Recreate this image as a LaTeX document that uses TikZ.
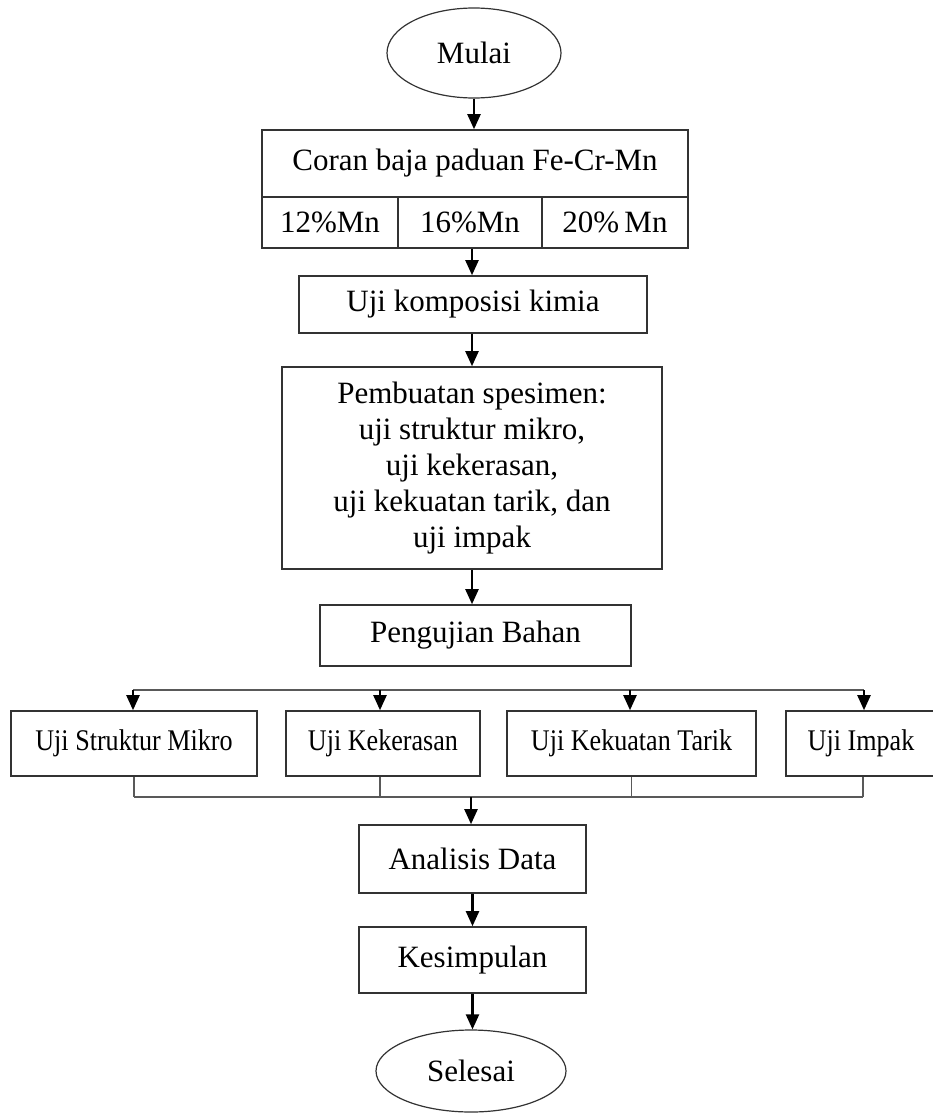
\documentclass[tikz,border=0pt]{standalone}
\usepackage{fontspec}
\setmainfont{Liberation Serif}
\newfontfamily\condfont{Liberation Serif}[FakeStretch=0.87]
\usetikzlibrary{shapes.geometric,arrows.meta}
\begin{document}
\begin{tikzpicture}[x=1pt,y=-1pt,
  box/.style={draw=black!80,line width=1.6pt,rectangle,inner sep=0pt,align=center,font=\fontsize{31}{36}\selectfont},
  oval/.style={draw=black!80,line width=1.2pt,ellipse,inner sep=0pt,font=\fontsize{31}{36}\selectfont},
  smallbox/.style={box,font=\condfont\fontsize{30}{36}\selectfont},
  arr/.style={line width=2.2pt,black,-{Triangle[length=15pt,width=13pt]}},
  conn/.style={line width=1.6pt,black!65}]
\useasboundingbox (0,0) rectangle (933,1113);
\fill[white] (0,0) rectangle (933,1113);
\node[oval,minimum width=174pt,minimum height=90pt] (mulai) at (474,53) {Mulai};
\node[box,minimum width=426pt,minimum height=67pt] (coran) at (475,163.5) {Coran baja paduan Fe-Cr-Mn};
\node[box,minimum width=136pt,minimum height=51pt] (c1) at (330,222.5) {12\%Mn};
\node[box,minimum width=144pt,minimum height=51pt] (c2) at (470,222.5) {16\%Mn};
\node[box,minimum width=146pt,minimum height=51pt] (c3) at (615,222.5) {20\%\,Mn};
\node[box,minimum width=348pt,minimum height=57pt] (komp) at (473,304.5) {Uji komposisi kimia};
\node[box,minimum width=380pt,minimum height=202pt] (pemb) at (472,468) {Pembuatan spesimen:\\uji struktur mikro,\\uji kekerasan,\\uji kekuatan tarik, dan\\uji impak};
\node[box,minimum width=311pt,minimum height=61pt] (peng) at (475.5,635.5) {Pengujian Bahan};
\node[smallbox,minimum width=246pt,minimum height=65pt] (t1) at (134,743.5) {Uji Struktur Mikro};
\node[smallbox,minimum width=194pt,minimum height=65pt] (t2) at (383,743.5) {Uji Kekerasan};
\node[smallbox,minimum width=249pt,minimum height=65pt] (t3) at (631.5,743.5) {Uji Kekuatan Tarik};
\node[smallbox,minimum width=150pt,minimum height=65pt] (t4) at (861,743.5) {Uji Impak};
\node[box,minimum width=227pt,minimum height=68pt] (anal) at (472.5,859) {Analisis Data};
\node[box,minimum width=227pt,minimum height=66pt] (kes) at (472.5,960) {Kesimpulan};
\node[oval,minimum width=190pt,minimum height=82pt] (sel) at (471,1071) {Selesai};
% split/merge coordinates
\coordinate (s1) at (133,690);
\coordinate (s2) at (380,690);
\coordinate (s3) at (630,690);
\coordinate (s4) at (864,690);
\coordinate (m) at (471,797);
% arrows
\draw[arr] (mulai.south) -- (mulai.south |- coran.north);
\draw[arr] (c2.south -| 472,0) -- (komp.north -| 472,0);
\draw[arr] (komp.south -| 472,0) -- (pemb.north -| 472,0);
\draw[arr] (pemb.south -| 472,0) -- (peng.north -| 472,0);
\draw[conn] (s1) -- (s4);
\draw[arr] (s1) -- (s1 |- t1.north);
\draw[arr] (s2) -- (s2 |- t2.north);
\draw[arr] (s3) -- (s3 |- t3.north);
\draw[arr] (s4) -- (s4 |- t4.north);
\draw[conn] (t1.south) ++(0,0) coordinate (b1) (b1) -- (b1 |- m);
\draw[conn] (380,0 |- t2.south) -- (380,0 |- m);
\draw[conn] (t3.south) -- (t3.south |- m);
\draw[conn] (863,0 |- t4.south) -- (863,0 |- m);
\draw[conn] (b1 |- m) -- (863,0 |- m);
\draw[arr] (m) -- (m |- anal.north);
\draw[arr] (anal.south) -- (kes.north);
\draw[arr] (kes.south) -- (kes.south |- sel.north);
\end{tikzpicture}
\end{document}
